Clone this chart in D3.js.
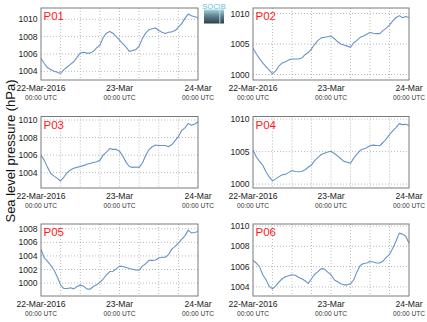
<!DOCTYPE html>
<html>
<head>
<meta charset="utf-8">
<script src="https://cdn.jsdelivr.net/npm/d3@7"></script>
<style>
  html, body { margin: 0; padding: 0; background: #fff; }
  svg { display: block; font-family: "Liberation Sans", Arial, Helvetica, sans-serif; }
</style>
</head>
<body>
<script>
// Hourly sea level pressure (hPa), 22-Mar-2016 00:00 UTC to 24-Mar-2016 00:00 UTC
const stations = ["P01", "P02", "P03", "P04", "P05", "P06"];

const p01 = [1005.5, 1004.9, 1004.4, 1004.2, 1004.0, 1003.9, 1003.75, 1004.2, 1004.5, 1004.8,
  1005.1, 1005.6, 1006.1, 1006.2, 1006.1, 1006.1, 1006.3, 1006.7, 1007.0, 1007.9,
  1008.4, 1008.6, 1008.4, 1008.0, 1007.6, 1007.2, 1006.8, 1006.3, 1006.4, 1006.5,
  1006.9, 1007.8, 1008.4, 1008.8, 1008.9, 1009.0, 1008.7, 1008.5, 1008.35, 1008.5,
  1008.55, 1008.7, 1009.1, 1009.5, 1010.1, 1010.6, 1010.4, 1010.3, 1010.2];

const p02 = [1004.3, 1003.4, 1002.6, 1001.9, 1001.3, 1000.7, 1000.15, 1000.6, 1001.4, 1001.9,
  1002.1, 1002.4, 1002.55, 1002.55, 1002.55, 1002.7, 1003.25, 1003.6, 1004.2, 1004.95,
  1005.6, 1006.0, 1006.1, 1006.2, 1006.3, 1005.9, 1005.4, 1005.0, 1004.85, 1004.65,
  1004.45, 1005.2, 1005.6, 1006.1, 1006.3, 1006.6, 1006.9, 1006.75, 1006.7, 1006.7,
  1007.2, 1007.6, 1008.1, 1008.8, 1009.3, 1009.65, 1009.3, 1009.5, 1009.35];

const p03 = [1006.0, 1005.4, 1004.6, 1003.9, 1003.6, 1003.35, 1003.05, 1003.5, 1004.0, 1004.3,
  1004.5, 1004.6, 1004.7, 1004.8, 1004.95, 1005.05, 1005.15, 1005.25, 1005.4, 1006.0,
  1006.35, 1006.75, 1006.65, 1006.65, 1006.45, 1005.9, 1005.2, 1004.7, 1004.6, 1004.65,
  1004.6, 1005.1, 1005.95, 1006.6, 1006.95, 1007.15, 1007.1, 1007.1, 1007.1, 1006.95,
  1007.2, 1007.65, 1008.1, 1008.8, 1009.1, 1009.6, 1009.4, 1009.55, 1009.8];

const p04 = [1005.25, 1004.2, 1003.5, 1002.9, 1001.9, 1001.1, 1000.5, 1000.8, 1001.15, 1001.45,
  1001.5, 1001.8, 1002.1, 1001.95, 1001.9, 1001.95, 1002.2, 1002.6, 1002.95, 1003.6,
  1004.1, 1004.55, 1004.75, 1004.95, 1005.05, 1004.7, 1004.35, 1003.9, 1003.5, 1003.35,
  1003.2, 1004.0, 1004.6, 1005.2, 1005.4, 1005.6, 1005.9, 1006.0, 1005.95, 1005.9,
  1006.4, 1006.95, 1007.6, 1008.2, 1008.7, 1009.3, 1009.15, 1009.2, 1009.0];

const p05 = [1005.0, 1003.7, 1003.2, 1002.6, 1001.9, 1000.9, 999.7, 999.2, 999.2, 999.3,
  999.15, 999.5, 999.7, 999.55, 999.15, 999.1, 999.5, 999.75, 1000.1, 1000.6,
  1001.2, 1001.7, 1001.75, 1002.1, 1002.5, 1002.45, 1002.3, 1002.15, 1002.05, 1001.95,
  1001.9, 1002.5, 1002.85, 1003.35, 1003.35, 1003.4, 1003.7, 1003.8, 1003.8, 1004.2,
  1005.0, 1005.4, 1005.9, 1006.45, 1006.95, 1007.8, 1007.4, 1007.45, 1007.6];

const p06 = [1006.6, 1006.35, 1006.0, 1005.2, 1004.7, 1004.05, 1003.8, 1004.1, 1004.5, 1004.8,
  1005.0, 1005.1, 1005.2, 1005.15, 1004.95, 1004.8, 1004.6, 1004.35, 1004.8, 1005.25,
  1005.5, 1005.8, 1005.75, 1005.45, 1005.2, 1004.7, 1004.5, 1004.3, 1004.2, 1004.2,
  1004.3, 1004.7, 1005.5, 1006.1, 1006.3, 1006.35, 1006.5, 1006.45, 1006.35, 1006.35,
  1006.55, 1006.9, 1007.2, 1007.8, 1008.5, 1009.3, 1009.2, 1009.0, 1008.3];

const series = [p01, p02, p03, p04, p05, p06];

const yDomains = [[1003, 1011.3], [999.1, 1010.9], [1002.25, 1010.4],
                  [999.4, 1010.4], [998.1, 1008.7], [1003.1, 1010.2]];
const yTicks = [[1004, 1006, 1008, 1010], [1000, 1005, 1010], [1004, 1006, 1008, 1010],
                [1000, 1005, 1010], [1000, 1002, 1004, 1006, 1008], [1004, 1006, 1008, 1010]];

const xTickLabels = [["22-Mar-2016", "00:00 UTC"], ["23-Mar", "00:00 UTC"], ["24-Mar", "00:00 UTC"]];
const yTitle = "Sea level pressure (hPa)";

const start = new Date(Date.UTC(2016, 2, 22, 0));
const end = new Date(Date.UTC(2016, 2, 24, 0));

// Layout
const W = 427, H = 322;
const cols = [[41, 198], [253, 409]];
const rows = [[8, 80], [116.5, 188], [224, 296]];

const svg = d3.select("body").append("svg")
  .attr("width", W).attr("height", H)
  .attr("viewBox", `0 0 ${W} ${H}`);

// Logo gradient
const defs = svg.append("defs");
const grad = defs.append("linearGradient").attr("id", "logoGrad")
  .attr("x1", 0).attr("y1", 0).attr("x2", 0).attr("y2", 1);
grad.append("stop").attr("offset", "0%").attr("stop-color", "#a9d6e0");
grad.append("stop").attr("offset", "45%").attr("stop-color", "#5f8592");
grad.append("stop").attr("offset", "100%").attr("stop-color", "#2b3f4a");

series.forEach((vals, i) => {
  const [x0, x1] = cols[i % 2];
  const [y0, y1] = rows[Math.floor(i / 2)];

  const x = d3.scaleUtc().domain([start, end]).range([x0, x1]);
  const y = d3.scaleLinear().domain(yDomains[i]).range([y1, y0]);

  const g = svg.append("g");

  defs.append("clipPath").attr("id", "clip" + i)
    .append("rect").attr("x", x0).attr("y", y0).attr("width", x1 - x0).attr("height", y1 - y0);

  // Dotted grid: every 6 hours and at each y tick
  const vTicks = d3.utcHour.every(6).range(start, end).filter(d => d > start);
  g.selectAll(".vg").data(vTicks).join("line")
    .attr("x1", d => x(d)).attr("x2", d => x(d))
    .attr("y1", y0).attr("y2", y1)
    .attr("stroke", "#a8a8a8").attr("stroke-width", 0.8)
    .attr("stroke-dasharray", "1,2");
  g.selectAll(".hg").data(yTicks[i]).join("line")
    .attr("x1", x0).attr("x2", x1)
    .attr("y1", d => y(d)).attr("y2", d => y(d))
    .attr("stroke", "#a8a8a8").attr("stroke-width", 0.8)
    .attr("stroke-dasharray", "1,2");

  // Pressure trace
  const pts = vals.map((v, h) => [d3.utcHour.offset(start, h), v]);
  g.append("path").datum(pts)
    .attr("clip-path", `url(#clip${i})`)
    .attr("fill", "none")
    .attr("stroke", "#6893c6")
    .attr("stroke-width", 1.1)
    .attr("stroke-linejoin", "round")
    .attr("d", d3.line().x(d => x(d[0])).y(d => y(d[1])));

  // Frame
  g.append("rect")
    .attr("x", x0).attr("y", y0).attr("width", x1 - x0).attr("height", y1 - y0)
    .attr("fill", "none").attr("stroke", "#7a7a7a").attr("stroke-width", 1);

  // Y tick labels
  g.selectAll(".yl").data(yTicks[i]).join("text")
    .attr("x", x0 - 3.5).attr("y", d => y(d))
    .attr("dy", "0.35em")
    .attr("text-anchor", "end")
    .attr("font-size", 8.6)
    .attr("fill", "#222")
    .text(d => d);

  // X tick labels
  const xTicks = [start, d3.utcHour.offset(start, 24), end];
  xTicks.forEach((t, k) => {
    g.append("text")
      .attr("x", x(t)).attr("y", y1 + 11)
      .attr("text-anchor", "middle")
      .attr("font-size", 8.6)
      .attr("fill", "#222")
      .text(xTickLabels[k][0]);
    g.append("text")
      .attr("x", x(t)).attr("y", y1 + 19.5)
      .attr("text-anchor", "middle")
      .attr("font-size", 6.6)
      .attr("fill", "#333")
      .text(xTickLabels[k][1]);
  });

  // Station name
  g.append("text")
    .attr("x", x0 + 2.5).attr("y", y0 + 12)
    .attr("font-size", 11.5)
    .attr("fill", "#ff1a1a")
    .text(stations[i]);
});

// Shared y title
svg.append("text")
  .attr("transform", "translate(14.5,151) rotate(-90)")
  .attr("text-anchor", "middle")
  .attr("font-size", 13)
  .attr("fill", "#111")
  .text(yTitle);

// Logo
const logo = svg.append("g").attr("transform", "translate(204,2)");
logo.append("text")
  .attr("x", 10).attr("y", 6.5)
  .attr("text-anchor", "middle")
  .attr("font-size", 7.5)
  .attr("fill", "#5cc3dc")
  .text("SOCIB");
logo.append("rect")
  .attr("x", 0).attr("y", 7.5).attr("width", 20).attr("height", 14)
  .attr("fill", "url(#logoGrad)");
logo.append("rect")
  .attr("x", 15).attr("y", 7.5).attr("width", 1.5).attr("height", 14)
  .attr("fill", "#c5e3ea").attr("opacity", 0.6);
</script>
</body>
</html>
